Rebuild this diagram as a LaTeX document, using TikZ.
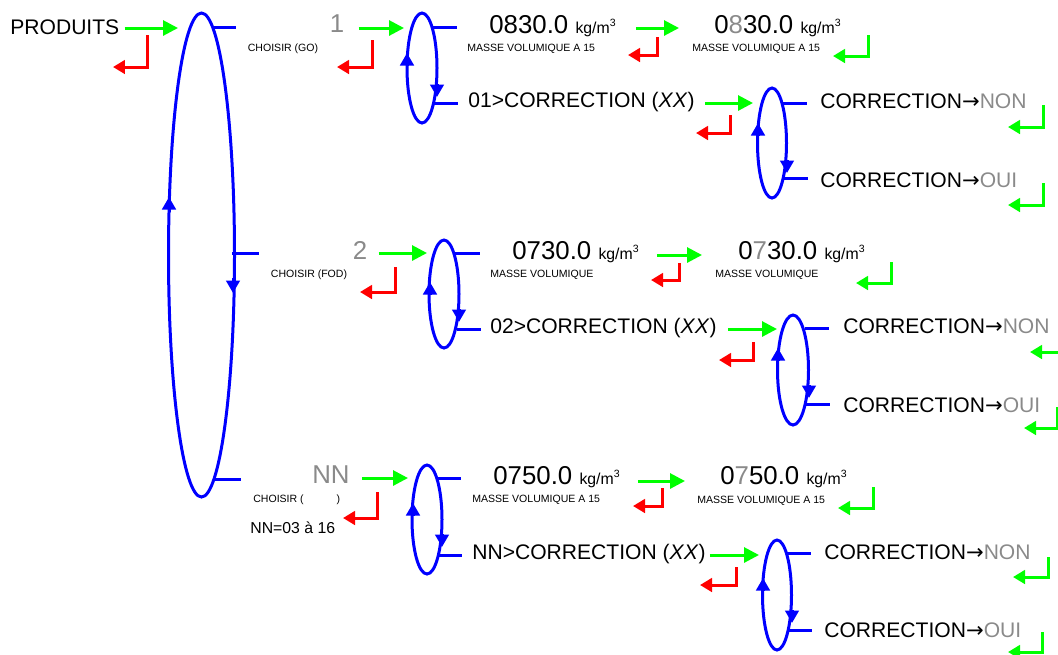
\documentclass[tikz,border=0pt]{standalone}
\usepackage{fontspec}
\setmainfont{Liberation Sans}
\newfontfamily\flechefont{DejaVu Sans}
\usepackage{xcolor}
\usetikzlibrary{arrows.meta}
\definecolor{menu-blue}{HTML}{0000FF}
\definecolor{key-green}{HTML}{00FF00}
\definecolor{key-red}{HTML}{FF0000}
\definecolor{dim-gray}{HTML}{8A8A8A}
\newcommand{\unite}{{\fontsize{9}{10}\selectfont kg/m\textsuperscript{3}}}
\newcommand{\gris}[1]{\textcolor{dim-gray}{#1}}
\newcommand{\versfl}{{\flechefont →}}

\tikzset{
  menu/.style={draw=menu-blue, line width=0.06cm},
  sens/.style={draw=menu-blue, line width=0.06cm, -{Triangle[length=0.25cm, width=0.27cm]}},
  entree/.style={draw=key-green, line width=0.06cm, -{Triangle[length=0.3cm, width=0.3cm]}},
  rouge/.style={draw=key-red, line width=0.06cm, -{Triangle[length=0.24cm, width=0.27cm]}},
  vert/.style={draw=key-green, line width=0.06cm, -{Triangle[length=0.24cm, width=0.27cm]}},
  item/.style={inner sep=0pt, anchor=base west, font=\fontsize{12}{14}\selectfont},
  valeur/.style={inner sep=0pt, anchor=base west, font=\fontsize{14.7}{17}\selectfont},
  choix/.style={inner sep=0pt, anchor=base, text=dim-gray, font=\fontsize{14.7}{17}\selectfont},
  petit/.style={inner sep=0pt, anchor=base west, font=\fontsize{6}{7}\selectfont},
  note/.style={inner sep=0pt, anchor=base west, font=\fontsize{9}{10}\selectfont}
}

\begin{document}
\begin{tikzpicture}[x=0.02cm, y=-0.02cm]
  \useasboundingbox (0,0) rectangle (1058,654);

  % main menu
  \node[item] (produits) at (10,34) {PRODUITS};
  \coordinate (e-produits) at (178,28);
  \draw[entree, shorten <=0.1cm] (produits.east |- e-produits) -- (e-produits);
  \draw[rouge] (147,35) |- (113,67);
  \draw[menu] (201.5,255) ellipse [x radius=33, y radius=242];
  \draw[sens] (169,212) -- (169,197);
  \draw[sens] (233,278) -- (233,293);
  \draw[menu] (213,27) -- (236,27);
  \draw[menu] (232,253) -- (259,253);
  \draw[menu] (215,479) -- (241,479);

  % product 1 (GO)
  \node[choix] (num-go) at (337,32) {1};
  \node[petit, anchor=base] (lib-go) at (283,51) {CHOISIR (GO)};
  \coordinate (e-go) at (404,28);
  \draw[entree, shorten <=0.28cm] (num-go.east |- e-go) -- (e-go);
  \draw[rouge] (372,40) |- (337,67);
  \draw[menu] (422,68) ellipse [x radius=15, y radius=55];
  \draw[sens] (407,66) -- (407,53);
  \draw[sens] (437,84) -- (437,97);
  \draw[menu] (433,27) -- (457,27);
  \draw[menu] (434,103) -- (458,103);
  \node[valeur] (dens-go) at (489,33) {0830.0 \unite};
  \node[petit] (masse-go) at (467,51) {MASSE VOLUMIQUE A 15};
  \coordinate (e-dens-go) at (679,28);
  \draw[entree, shorten <=0.38cm] (dens-go.east |- e-dens-go) -- (e-dens-go);
  \draw[rouge] (657,37) |- (628,55);
  \node[valeur] (dens-go-b) at (714,33) {0\gris{8}30.0 \unite};
  \node[petit] (masse-go-b) at (692,51) {MASSE VOLUMIQUE A 15};
  \draw[vert] (868,35) |- (833,56);
  \node[item] (corr-go) at (468,107) {01>CORRECTION (\textit{XX})};
  \coordinate (e-corr-go) at (753,103);
  \draw[entree, shorten <=0.2cm] (corr-go.east |- e-corr-go) -- (e-corr-go);
  \draw[rouge] (730,115) |- (696,133);
  \draw[menu] (772,143) ellipse [x radius=14.5, y radius=55];
  \draw[sens] (758,136) -- (758,123);
  \draw[sens] (787,160) -- (787,173);
  \draw[menu] (782,103) -- (807,103);
  \draw[menu] (783,178) -- (808,178);
  \node[item] (non-go) at (820,108) {CORRECTION\versfl\gris{NON}};
  \draw[vert] (1043,105) |- (1008,127);
  \node[item] (oui-go) at (820,187) {CORRECTION\versfl\gris{OUI}};
  \draw[vert] (1043,183) |- (1008,205);

  % product 2 (FOD)
  \node[choix] (num-fod) at (360,259) {2};
  \node[petit, anchor=base] (lib-fod) at (309,277) {CHOISIR (FOD)};
  \coordinate (e-fod) at (427,253);
  \draw[entree, shorten <=0.22cm] (num-fod.east |- e-fod) -- (e-fod);
  \draw[rouge] (395,267) |- (360,292);
  \draw[menu] (444,294) ellipse [x radius=15, y radius=54];
  \draw[sens] (430,295) -- (430,282);
  \draw[sens] (459,309) -- (459,322);
  \draw[menu] (455,253) -- (480,253);
  \draw[menu] (457,329) -- (481,329);
  \node[valeur] (dens-fod) at (512,259) {0730.0 \unite};
  \node[petit] (masse-fod) at (490,277) {MASSE VOLUMIQUE};
  \coordinate (e-dens-fod) at (702,255);
  \draw[entree, shorten <=0.34cm] (dens-fod.east |- e-dens-fod) -- (e-dens-fod);
  \draw[rouge] (679,263) |- (651,280);
  \node[valeur] (dens-fod-b) at (738,259) {0\gris{7}30.0 \unite};
  \node[petit] (masse-fod-b) at (715,277) {MASSE VOLUMIQUE};
  \draw[vert] (891,262) |- (856,283);
  \node[item] (corr-fod) at (490,333) {02>CORRECTION (\textit{XX})};
  \coordinate (e-corr-fod) at (777,329);
  \draw[entree, shorten <=0.22cm] (corr-fod.east |- e-corr-fod) -- (e-corr-fod);
  \draw[rouge] (753,342) |- (719,360);
  \draw[menu] (793,370) ellipse [x radius=15.5, y radius=55];
  \draw[sens] (778,361) -- (778,348);
  \draw[sens] (809,385) -- (809,398);
  \draw[menu] (805,328) -- (829,328);
  \draw[menu] (806,404) -- (830,404);
  \node[item] (non-fod) at (843,333) {CORRECTION\versfl\gris{NON}};
  \draw[vert] (1064,335) |- (1030,352);
  \node[item] (oui-fod) at (843,412) {CORRECTION\versfl\gris{OUI}};
  \draw[vert] (1057,407) |- (1024,428);

  % products 03 to 16
  \node[choix] (num-nn) at (331,483) {NN};
  \node[petit] (lib-nn) at (253,502) {CHOISIR (\hspace{0.66cm})};
  \node[note] (plage-nn) at (250,533) {NN=03 à 16};
  \coordinate (e-nn) at (408,478);
  \draw[entree, shorten <=0.24cm] (num-nn.east |- e-nn) -- (e-nn);
  \draw[rouge] (377,492) |- (343,518);
  \draw[menu] (427,519.5) ellipse [x radius=15, y radius=54.5];
  \draw[sens] (413,516) -- (413,503);
  \draw[sens] (442,534) -- (442,547);
  \draw[menu] (437,478) -- (461,478);
  \draw[menu] (438,555) -- (462,555);
  \node[valeur] (dens-nn) at (493,484) {0750.0 \unite};
  \node[petit] (masse-nn) at (472,502) {MASSE VOLUMIQUE A 15};
  \coordinate (e-dens-nn) at (685,481);
  \draw[entree, shorten <=0.34cm] (dens-nn.east |- e-dens-nn) -- (e-dens-nn);
  \draw[rouge] (662,488) |- (633,506);
  \node[valeur] (dens-nn-b) at (720,484) {0\gris{7}50.0 \unite};
  \node[petit] (masse-nn-b) at (697,503) {MASSE VOLUMIQUE A 15};
  \draw[vert] (873,487) |- (838,508);
  \node[item] (corr-nn) at (472,559) {NN>CORRECTION (\textit{XX})};
  \coordinate (e-corr-nn) at (759,555);
  \draw[entree, shorten <=0.08cm] (corr-nn.east |- e-corr-nn) -- (e-corr-nn);
  \draw[rouge] (736,567) |- (700,585);
  \draw[menu] (777,595) ellipse [x radius=14.5, y radius=55];
  \draw[sens] (763,591) -- (763,578);
  \draw[sens] (792,610) -- (792,623);
  \draw[menu] (787,553) -- (811,553);
  \draw[menu] (788,630) -- (812,630);
  \node[item] (non-nn) at (824,559) {CORRECTION\versfl\gris{NON}};
  \draw[vert] (1048,557) |- (1013,577);
  \node[item] (oui-nn) at (824,637) {CORRECTION\versfl\gris{OUI}};
  \draw[vert] (1042,632) |- (1008,652);
\end{tikzpicture}
\end{document}
